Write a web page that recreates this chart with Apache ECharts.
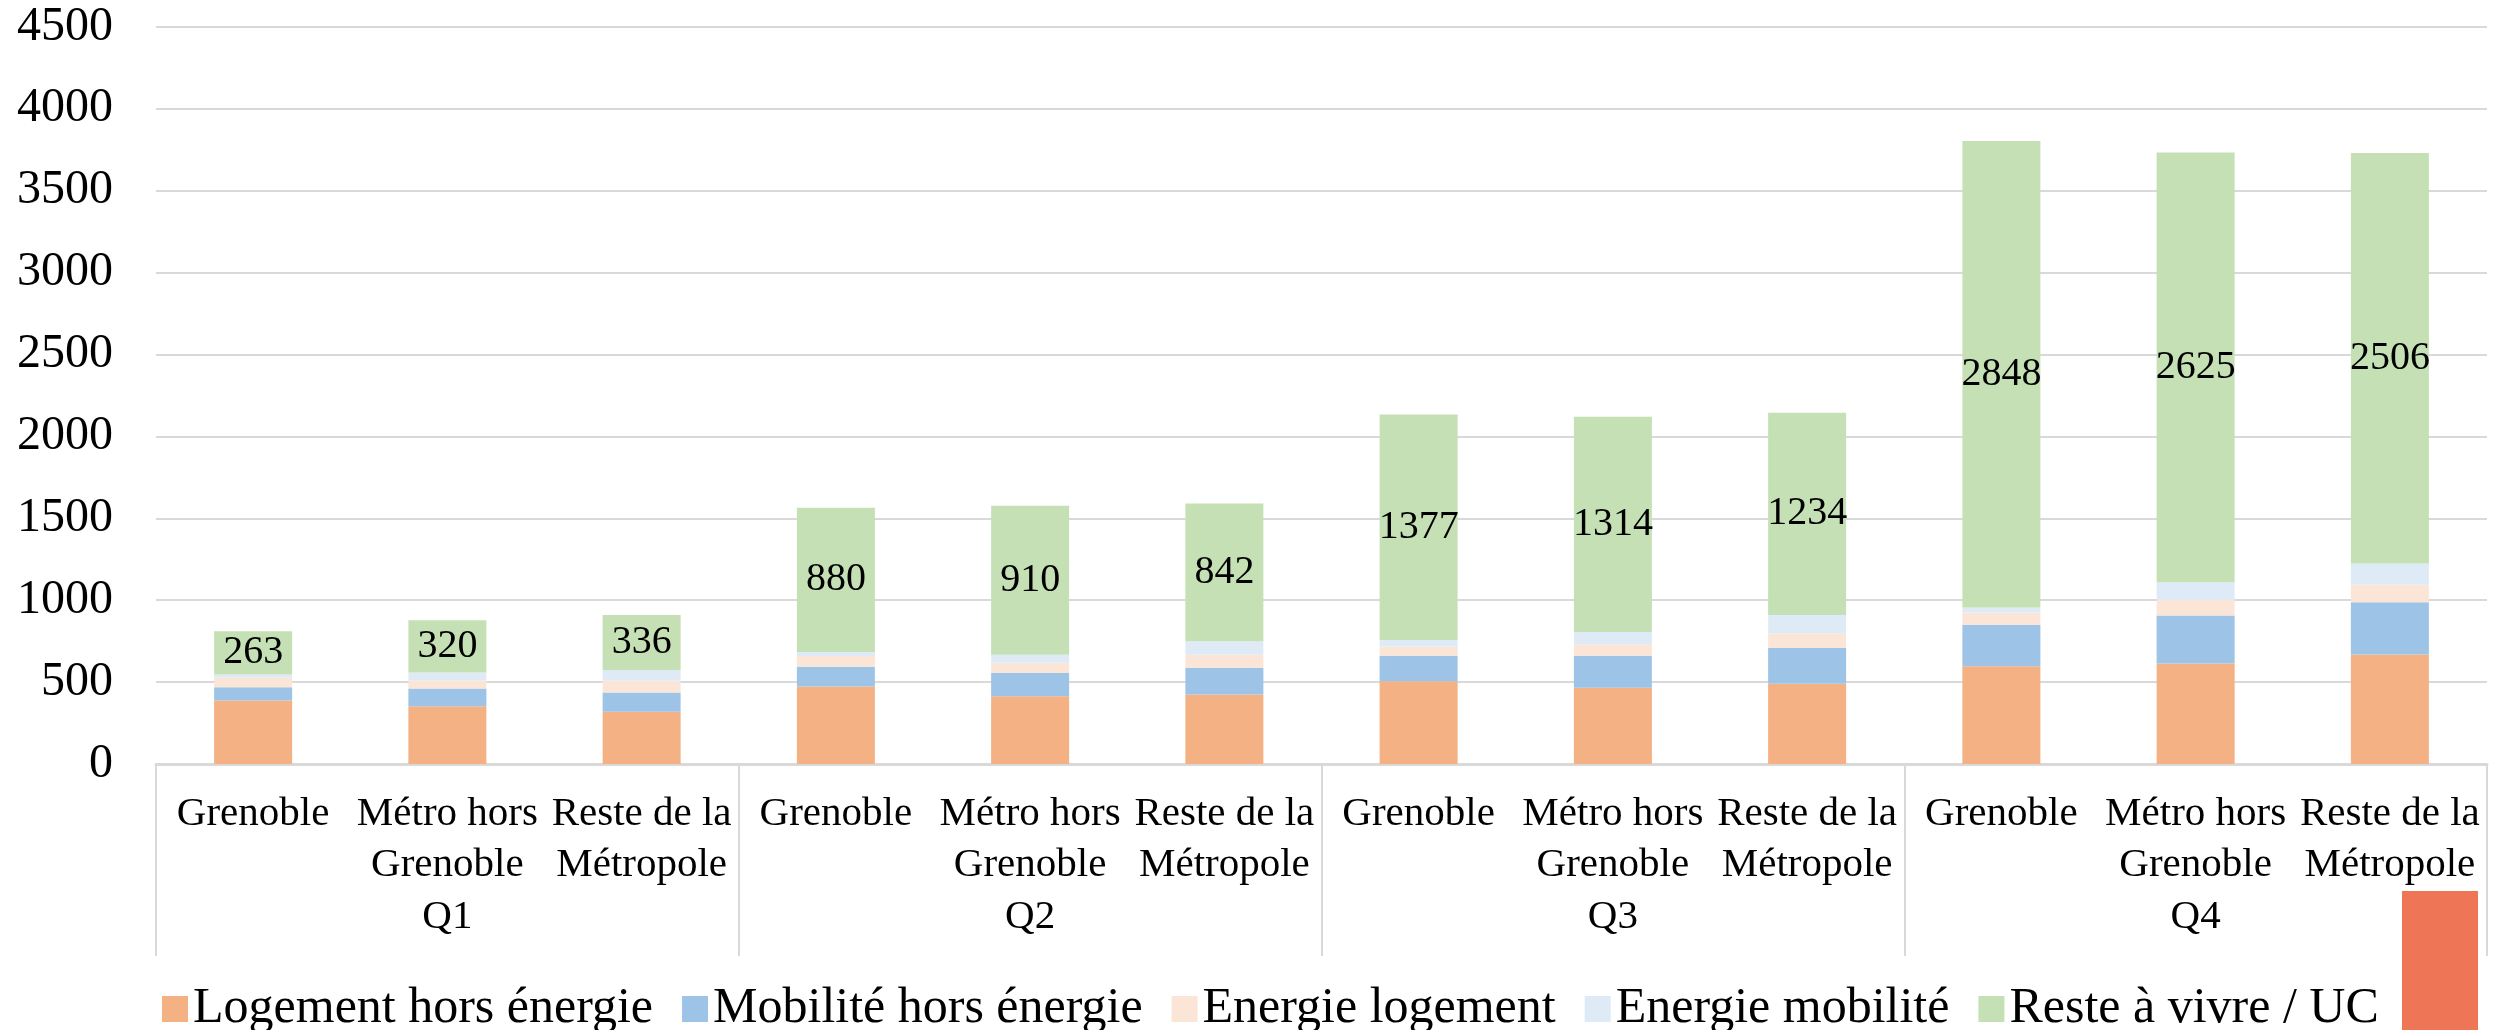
<!DOCTYPE html>
<html>
<head>
<meta charset="utf-8">
<script src="https://cdn.jsdelivr.net/npm/echarts@6/dist/echarts.min.js"></script>
<style>
  html, body { margin: 0; padding: 0; background: #fff; }
  #chart { width: 2498px; height: 1030px; }
</style>
</head>
<body>
<div id="chart"></div>
<script>
// categories (two-level axis: zone within quartile)
const zones = ['Grenoble', 'Métro hors\nGrenoble', 'Reste de la\nMétropole'];
const quartiles = ['Q1', 'Q2', 'Q3', 'Q4'];
const categories = quartiles.flatMap(() => zones);

// values per series, Q1..Q4 x (Grenoble, Métro hors Grenoble, Reste de la Métropole)
const logementHorsEnergie = [387, 352, 319, 473, 414, 424, 506, 465, 490, 597, 613, 668];
const mobiliteHorsEnergie = [82, 109, 117, 121, 141, 164, 155, 196, 220, 252, 293, 320];
const energieLogement = [58, 51, 72, 65, 63, 79, 57, 70, 88, 76, 96, 107];
const energieMobilite = [20, 46, 66, 25, 49, 82, 39, 75, 112, 31, 107, 129];
const resteAVivre = [263, 320, 336, 880, 910, 842, 1377, 1314, 1234, 2848, 2625, 2506];

const seriesNames = ['Logement hors énergie', 'Mobilité hors énergie', 'Energie logement', 'Energie mobilité', 'Reste à vivre / UC'];
const seriesColors = ['#F4B183', '#9DC3E6', '#FBE5D6', '#DEEBF7', '#C5E0B4'];
const seriesData = [logementHorsEnergie, mobiliteHorsEnergie, energieLogement, energieMobilite, resteAVivre];

const font = 'Liberation Serif';
const gridColor = '#D9D9D9';

const chart = echarts.init(document.getElementById('chart'));

const series = seriesNames.map((name, i) => ({
  name,
  type: 'bar',
  stack: 'total',
  barWidth: 78,
  itemStyle: { color: seriesColors[i] },
  label: i === 4 ? {
    show: true,
    position: 'inside',
    color: '#000',
    fontFamily: font,
    fontSize: 40
  } : { show: false },
  data: seriesData[i]
}));

chart.setOption({
  animation: false,
  backgroundColor: '#fff',
  grid: { left: 156, right: 11, top: 27, bottom: 266 },
  legend: {
    data: seriesNames,
    left: 157,
    top: 979,
    icon: 'rect',
    itemWidth: 26,
    itemHeight: 26,
    itemGap: 29,
    textStyle: { fontFamily: font, fontSize: 50, color: '#000', lineHeight: 46 }
  },
  xAxis: [
    {
      type: 'category',
      data: categories,
      axisLine: { lineStyle: { color: gridColor, width: 3 } },
      axisTick: { show: false },
      axisLabel: {
        interval: 0,
        margin: 25,
        color: '#000',
        fontFamily: font,
        fontSize: 41,
        lineHeight: 51
      }
    },
    {
      type: 'category',
      position: 'bottom',
      data: quartiles,
      axisLine: { show: false },
      axisTick: { show: true, length: 192, lineStyle: { color: gridColor, width: 2 } },
      axisLabel: {
        margin: 130,
        color: '#000',
        fontFamily: font,
        fontSize: 41,
        lineHeight: 46
      }
    }
  ],
  yAxis: {
    type: 'value',
    min: 0,
    max: 4500,
    interval: 500,
    axisLine: { show: false },
    axisTick: { show: false },
    axisLabel: { margin: 43, color: '#000', fontFamily: font, fontSize: 48, formatter: v => String(v) },
    splitLine: { lineStyle: { color: gridColor, width: 2 } }
  },
  series,
  graphic: [
    { type: 'rect', shape: { x: 2402, y: 891, width: 76, height: 139 }, style: { fill: '#EE7656' } }
  ]
});
</script>
</body>
</html>
